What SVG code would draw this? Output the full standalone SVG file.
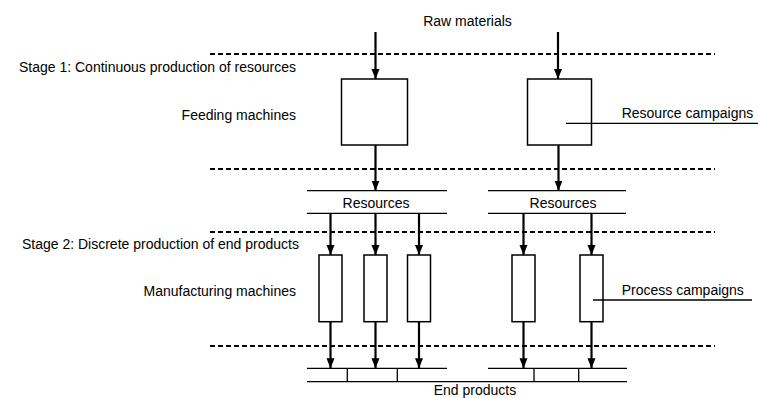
<svg xmlns="http://www.w3.org/2000/svg" width="758" height="398" viewBox="0 0 758 398">
<defs>
<marker id="ah" viewBox="0 0 10 10" refX="10" refY="5" markerWidth="10" markerHeight="10" markerUnits="userSpaceOnUse" orient="auto">
<path d="M0,1 L10,5 L0,9 Z" fill="#000"/>
</marker>
<style>
text{font-family:"Liberation Sans",Arial,sans-serif;font-size:14px;fill:#000}
.box{fill:#fff;stroke:#000;stroke-width:1.5}
.dash{stroke:#000;stroke-width:2;stroke-dasharray:5,3;fill:none}
.arr{stroke:#000;stroke-width:2.2;fill:none;marker-end:url(#ah)}
.ln{stroke:#000;stroke-width:1.3;fill:none}
.r{text-anchor:end}
.m{text-anchor:middle}
</style>
</defs>
<rect width="758" height="398" fill="#fff"/>
<g id="stages">
<line class="dash" x1="210" y1="54" x2="715" y2="54"/>
<line class="dash" x1="210" y1="169" x2="715" y2="169"/>
<line class="dash" x1="210" y1="232" x2="715" y2="232"/>
<line class="dash" x1="210" y1="346" x2="715" y2="346"/>
<text x="296" y="71.5" class="r">Stage 1: Continuous production of resources</text>
<text x="296" y="120" class="r">Feeding machines</text>
<text x="299" y="249" class="r">Stage 2: Discrete production of end products</text>
<text x="296" y="296" class="r">Manufacturing machines</text>
<text x="467.5" y="26" class="m">Raw materials</text>
</g>
<g id="feed1"><rect class="box" x="341.5" y="79" width="66" height="66"/></g>
<g id="feed2"><rect class="box" x="527.5" y="79" width="64" height="66"/></g>
<g id="res1">
<line class="ln" x1="307" y1="190.7" x2="447" y2="190.7"/>
<line class="ln" x1="307" y1="213.3" x2="447" y2="213.3"/>
<text x="376" y="208" class="m">Resources</text>
</g>
<g id="res2">
<line class="ln" x1="488" y1="190.7" x2="626" y2="190.7"/>
<line class="ln" x1="488" y1="213.3" x2="626" y2="213.3"/>
<text x="563" y="208" class="m">Resources</text>
</g>
<g id="mach1"><rect class="box" x="319" y="255" width="23" height="66.7"/></g>
<g id="mach2"><rect class="box" x="364" y="255" width="23" height="66.7"/></g>
<g id="mach3"><rect class="box" x="407.5" y="255" width="23" height="66.7"/></g>
<g id="mach4"><rect class="box" x="512" y="255" width="23" height="66.7"/></g>
<g id="mach5"><rect class="box" x="580" y="255" width="23" height="66.7"/></g>
<g id="endproducts">
<line class="ln" x1="307" y1="368.3" x2="447" y2="368.3"/>
<line class="ln" x1="488" y1="368.3" x2="627" y2="368.3"/>
<line class="ln" x1="307" y1="381.7" x2="627" y2="381.7"/>
<line class="ln" x1="347.3" y1="368.3" x2="347.3" y2="381.7"/>
<line class="ln" x1="397.3" y1="368.3" x2="397.3" y2="381.7"/>
<line class="ln" x1="534" y1="368.3" x2="534" y2="381.7"/>
<line class="ln" x1="578.7" y1="368.3" x2="578.7" y2="381.7"/>
<text x="475" y="395" class="m">End products</text>
</g>
<g id="callouts">
<line class="ln" x1="566" y1="123.3" x2="758" y2="123.3"/>
<text x="621.7" y="118">Resource campaigns</text>
<line class="ln" x1="593" y1="300" x2="752" y2="300"/>
<text x="621.7" y="295">Process campaigns</text>
</g>
<g id="connectors">
<line class="arr" x1="375.5" y1="32" x2="375.5" y2="79"/>
<line class="arr" x1="558" y1="32" x2="558" y2="79"/>
<line class="arr" x1="375.5" y1="145" x2="375.5" y2="190.7"/>
<line class="arr" x1="558.5" y1="145" x2="558.5" y2="190.7"/>
<line class="arr" x1="330.5" y1="213.3" x2="330.5" y2="255"/>
<line class="arr" x1="375.5" y1="213.3" x2="375.5" y2="255"/>
<line class="arr" x1="419" y1="213.3" x2="419" y2="255"/>
<line class="arr" x1="523.5" y1="213.3" x2="523.5" y2="255"/>
<line class="arr" x1="591.5" y1="213.3" x2="591.5" y2="255"/>
<line class="arr" x1="330.5" y1="321.7" x2="330.5" y2="368.3"/>
<line class="arr" x1="375.5" y1="321.7" x2="375.5" y2="368.3"/>
<line class="arr" x1="419" y1="321.7" x2="419" y2="368.3"/>
<line class="arr" x1="523.5" y1="321.7" x2="523.5" y2="368.3"/>
<line class="arr" x1="591.5" y1="321.7" x2="591.5" y2="368.3"/>
</g>
</svg>
